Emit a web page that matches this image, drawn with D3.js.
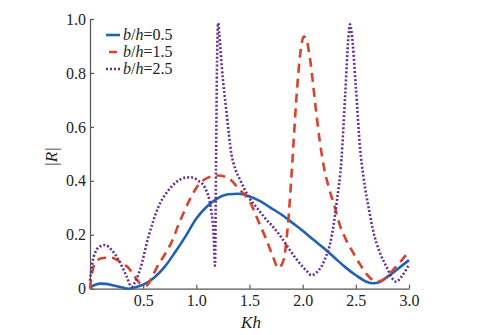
<!DOCTYPE html>
<html lang="en">
<head>
<meta charset="UTF-8">
<title>|R| vs Kh</title>
<script src="https://cdn.jsdelivr.net/npm/d3@7"></script>
<style>
    body { margin: 0; background: #fff; }
    svg text { fill: #222; }
    .tick text { font-size: 16px; }
    .lbl { font-style: italic; font-size: 17px; }
    .leg { font-size: 16px; }
</style>
</head>
<body>
<svg width="492" height="335"></svg>
<script>
    // b/h = 0.5
    const kh05 = [0, 0.05, 0.1, 0.15, 0.2, 0.3, 0.36, 0.45, 0.5, 0.6, 0.7, 0.8, 0.9, 1.0, 1.1, 1.2, 1.3, 1.4, 1.5,
                  1.6, 1.7, 1.8, 1.9, 2.0, 2.1, 2.2, 2.3, 2.4, 2.5, 2.6, 2.66, 2.72, 2.8, 2.9, 3.0];
    const r05 = [0.005, 0.015, 0.019, 0.018, 0.014, 0.005, 0.0, 0.008, 0.015, 0.04, 0.08, 0.135, 0.195, 0.26, 0.305, 0.335, 0.35, 0.352, 0.342,
                 0.325, 0.3, 0.275, 0.245, 0.215, 0.182, 0.15, 0.115, 0.08, 0.05, 0.026, 0.02, 0.024, 0.045, 0.075, 0.106];

    // b/h = 1.5
    const kh15 = [0, 0.02, 0.05, 0.1, 0.15, 0.2, 0.25, 0.3, 0.36, 0.42, 0.47, 0.53, 0.58, 0.63, 0.7, 0.77, 0.83, 0.89, 0.95, 1.02,
                  1.1, 1.2, 1.3, 1.4, 1.5, 1.6, 1.65, 1.72, 1.77, 1.82, 1.86, 1.9, 1.94, 1.98, 2.01, 2.03, 2.07, 2.12, 2.16, 2.2,
                  2.25, 2.3, 2.35, 2.41, 2.48, 2.54, 2.6, 2.66, 2.72, 2.78, 2.85, 2.92, 3.0];
    const r15 = [0.0, 0.06, 0.095, 0.112, 0.115, 0.115, 0.108, 0.095, 0.078, 0.045, 0.02, 0.012, 0.04, 0.08, 0.125, 0.175, 0.235, 0.29, 0.34, 0.385,
                 0.41, 0.42, 0.41, 0.37, 0.325, 0.235, 0.19, 0.12, 0.076, 0.106, 0.23, 0.45, 0.7, 0.88, 0.935, 0.93, 0.85, 0.68, 0.55, 0.45,
                 0.37, 0.305, 0.235, 0.18, 0.13, 0.09, 0.055, 0.033, 0.028, 0.04, 0.07, 0.1, 0.14];

    // b/h = 2.5
    const kh25 = [0, 0.02, 0.05, 0.1, 0.14, 0.2, 0.27, 0.345, 0.39, 0.43, 0.47, 0.55, 0.64, 0.74, 0.82, 0.9, 0.95, 1.02, 1.08, 1.14,
                  1.165, 1.175, 1.185, 1.195, 1.205, 1.215, 1.24, 1.285, 1.33, 1.37, 1.41, 1.5, 1.57, 1.65, 1.72, 1.8, 1.88, 1.95, 2.04, 2.08,
                  2.13, 2.18, 2.22, 2.26, 2.32, 2.365, 2.4, 2.43, 2.445, 2.46, 2.5, 2.54, 2.57, 2.63, 2.66, 2.73, 2.79, 2.84, 2.88, 2.93, 3.0];
    const r25 = [0.03, 0.09, 0.135, 0.158, 0.162, 0.145, 0.106, 0.045, 0.007, 0.03, 0.07, 0.193, 0.3, 0.366, 0.398, 0.412, 0.413, 0.4, 0.375, 0.29,
                 0.18, 0.085, 0.45, 0.85, 0.985, 0.95, 0.82, 0.65, 0.5, 0.44, 0.405, 0.335, 0.3, 0.26, 0.23, 0.19, 0.143, 0.105, 0.065, 0.05,
                 0.06, 0.085, 0.12, 0.17, 0.32, 0.48, 0.72, 0.93, 0.98, 0.95, 0.75, 0.52, 0.42, 0.28, 0.22, 0.13, 0.08, 0.04, 0.026, 0.045, 0.09];

    const xTicks = [0.5, 1.0, 1.5, 2.0, 2.5, 3.0];
    const yTicks = [0, 0.2, 0.4, 0.6, 0.8, 1.0];

    const series = [
        {name: "0.5", kh: kh05, r: r05, color: "#1f63b0", dash: null, legDash: null},
        {name: "1.5", kh: kh15, r: r15, color: "#d8432b", dash: "9,6", legDash: "0,3,8,3"},
        {name: "2.5", kh: kh25, r: r25, color: "#66308f", dash: "2,2", legDash: "2,2"}
    ];

    const serif = "'Liberation Serif', 'DejaVu Serif', serif";

    const svg = d3.select("svg");
    const x = d3.scaleLinear().domain([0, 3]).range([90, 409]);
    const y = d3.scaleLinear().domain([0, 1]).range([288.7, 19]);

    // axes, ticks pointing inward
    const xAxis = svg.append("g").attr("transform", `translate(0,${y(0)})`)
        .call(d3.axisBottom(x).tickValues(xTicks).tickFormat(d3.format(".1f")).tickSizeInner(-4).tickSizeOuter(0).tickPadding(6));
    const yAxis = svg.append("g").attr("transform", `translate(${x(0)},0)`)
        .call(d3.axisLeft(y).tickValues(yTicks).tickFormat(d => d === 0 ? "0" : d3.format(".1f")(d)).tickSizeInner(-4).tickSizeOuter(0).tickPadding(4));
    svg.selectAll("g").attr("font-family", serif);
    svg.selectAll(".domain").attr("stroke", "#555").attr("stroke-width", 1.2);
    svg.selectAll(".tick line").attr("stroke", "#555").attr("stroke-width", 1.2);

    // curves
    const line = d3.line().x(d => x(d[0])).y(d => y(d[1])).curve(d3.curveMonotoneX);
    series.forEach(s => {
        svg.append("path")
            .attr("d", line(d3.zip(s.kh, s.r)))
            .attr("fill", "none")
            .attr("stroke", s.color)
            .attr("stroke-width", 2.6)
            .attr("stroke-dasharray", s.dash);
    });

    // axis labels
    svg.append("text").attr("class", "lbl").attr("font-family", serif).attr("text-anchor", "middle")
        .attr("x", 251).attr("y", 328).text("Kh");
    svg.append("text").attr("class", "lbl").attr("font-family", serif).attr("text-anchor", "middle")
        .attr("transform", "translate(57,157) rotate(-90)").text("|R|");

    // legend
    const leg = svg.append("g").attr("font-family", serif).attr("transform", "translate(106,35)");
    series.forEach((s, i) => {
        const g = leg.append("g").attr("transform", `translate(0,${i * 17})`);
        g.append("line").attr("x1", 0).attr("x2", 14).attr("y1", 0).attr("y2", 0)
            .attr("stroke", s.color).attr("stroke-width", 2.6)
            .attr("stroke-dasharray", s.legDash);
        const t = g.append("text").attr("class", "leg").attr("x", 17).attr("y", 5);
        t.append("tspan").attr("font-style", "italic").text("b");
        t.append("tspan").text("/");
        t.append("tspan").attr("font-style", "italic").text("h");
        t.append("tspan").text("=" + s.name);
    });
</script>
</body>
</html>
